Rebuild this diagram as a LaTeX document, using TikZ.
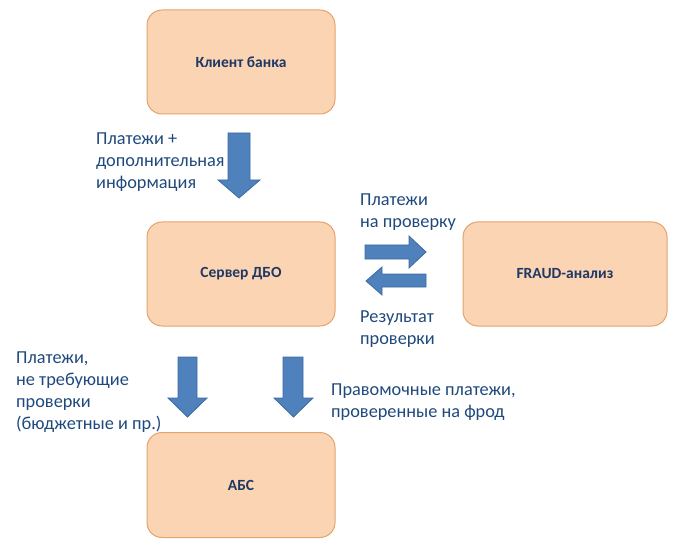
\documentclass[tikz,border=0pt]{standalone}
\usepackage{fontspec}
\setmainfont{Carlito}
\definecolor{boxfill}{HTML}{FBD4B4}
\definecolor{boxdraw}{HTML}{E3A46C}
\definecolor{boxtext}{HTML}{1F3864}
\definecolor{labtext}{HTML}{1F497D}
\definecolor{arrfill}{HTML}{4F81BD}
\definecolor{arrdraw}{HTML}{3D6A9E}
\newcommand{\lab}[1]{\parbox[t]{8cm}{\fontsize{18.3}{22}\selectfont\raggedright #1}}
\begin{document}
\begin{tikzpicture}[x=1pt,y=-1pt,
  sysbox/.style={draw=boxdraw,fill=boxfill,line width=1pt,rounded corners=15pt,
    minimum width=188pt,minimum height=104pt,inner sep=0pt,
    font=\fontsize{15.5}{18}\selectfont\bfseries,text=boxtext},
  blockarrow/.style={draw=arrdraw,fill=arrfill,line width=0.8pt,line join=miter},
  lbl/.style={anchor=base west,inner sep=0pt,text=labtext}]
\useasboundingbox (0,0) rectangle (680,556);
% boxes
\node[sysbox] (client) at (241,62) {Клиент банка};
\node[sysbox] (server) at (241,274) {Сервер ДБО};
\node[sysbox,minimum width=204pt] (fraud) at (565,274) {FRAUD-анализ};
\node[sysbox,minimum height=105pt] (abs) at (241,485) {АБС};
% block arrows
\draw[blockarrow] (228,133) -- (250,133) -- (250,180) -- (260,180) -- (239,198) -- (218,180) -- (228,180) -- cycle;
\draw[blockarrow] (365,245) -- (409,245) -- (409,236) -- (426,252) -- (409,268) -- (409,259) -- (365,259) -- cycle;
\draw[blockarrow] (426,274) -- (382,274) -- (382,267) -- (366,281) -- (382,295) -- (382,287) -- (426,287) -- cycle;
\draw[blockarrow] (178,357) -- (197,357) -- (197,398) -- (207,398) -- (187.5,417) -- (168,398) -- (178,398) -- cycle;
\draw[blockarrow] (283,357) -- (303,357) -- (303,398) -- (313,398) -- (293.5,417) -- (274,398) -- (283,398) -- cycle;
% labels
\node[lbl] (l1) at (96,145) {\lab{Платежи +\\дополнительная\\информация}};
\node[lbl] (l2) at (360,206) {\lab{Платежи\\на проверку}};
\node[lbl] (l3) at (360,322) {\lab{Результат\\проверки}};
\node[lbl] (l4) at (16,363) {\lab{Платежи,\\не требующие\\проверки\\(бюджетные и пр.)}};
\node[lbl] (l5) at (331,395) {\lab{Правомочные платежи,\\проверенные на фрод}};
\end{tikzpicture}
\end{document}
